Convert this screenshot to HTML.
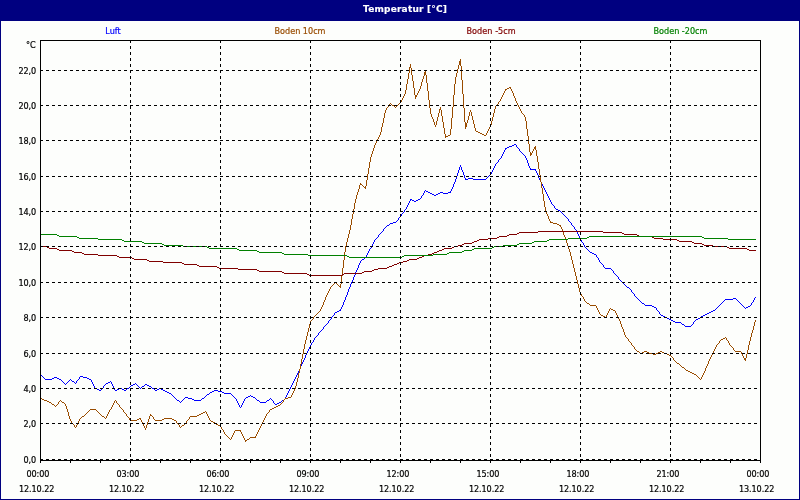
<!DOCTYPE html>
<html lang="de">
<head>
<meta charset="utf-8">
<title>Temperatur [°C]</title>
<style>
html,body{margin:0;padding:0;background:#fdfefc;}
body{width:800px;height:500px;overflow:hidden;}
svg{display:block;}
text{white-space:pre;}
.lbl text{font-family:"DejaVu Sans Condensed","DejaVu Sans","Liberation Sans",sans-serif;font-stretch:condensed;font-size:9px;stroke-width:0.2px;}
.lbl text.ttl{font-family:"DejaVu Sans","Liberation Sans",sans-serif;font-stretch:normal;font-weight:bold;font-size:9px;stroke-width:0.15px;}
</style>
</head>
<body>
<svg width="800" height="500" viewBox="0 0 800 500">
<rect x="0" y="0" width="800" height="500" fill="#fdfefc"/>
<g shape-rendering="crispEdges">
<path fill="#0000ff" d="M514 144h2v1h-2zM512 145h2v1h-2zM509 146h3v1h-3zM507 147h2v1h-2zM505 148h2v1h-2zM530 169h6v1h-6zM468 178h5v1h-5zM465 179h3v1h-3zM473 179h13v1h-13zM426 191h2v1h-2zM428 192h2v1h-2zM440 192h3v1h-3zM448 192h3v1h-3zM430 193h2v1h-2zM438 193h2v1h-2zM443 193h5v1h-5zM432 194h2v1h-2zM436 194h2v1h-2zM434 195h2v1h-2zM410 199h2v1h-2zM418 199h2v1h-2zM412 200h2v1h-2zM416 200h2v1h-2zM414 201h2v1h-2zM556 209h2v1h-2zM558 210h2v1h-2zM393 222h3v1h-3zM390 223h3v1h-3zM387 225h2v1h-2zM590 252h2v1h-2zM592 253h2v1h-2zM594 254h2v1h-2zM362 259h2v1h-2zM605 268h6v1h-6zM627 287h2v1h-2zM733 298h3v1h-3zM725 299h8v1h-8zM642 303h2v1h-2zM645 305h7v1h-7zM652 306h2v1h-2zM748 306h2v1h-2zM654 307h2v1h-2zM746 307h2v1h-2zM339 310h2v1h-2zM713 310h2v1h-2zM337 311h2v1h-2zM711 311h2v1h-2zM335 312h2v1h-2zM709 312h2v1h-2zM707 313h2v1h-2zM705 314h2v1h-2zM661 315h2v1h-2zM703 315h2v1h-2zM663 316h2v1h-2zM701 316h2v1h-2zM665 317h2v1h-2zM667 318h2v1h-2zM698 318h2v1h-2zM669 319h2v1h-2zM696 319h2v1h-2zM671 320h2v1h-2zM673 321h2v1h-2zM675 322h6v1h-6zM682 324h2v1h-2zM685 326h6v1h-6zM80 376h3v1h-3zM54 377h3v1h-3zM83 377h4v1h-4zM52 378h2v1h-2zM57 378h2v1h-2zM87 378h2v1h-2zM45 379h7v1h-7zM59 379h2v1h-2zM89 379h2v1h-2zM72 381h2v1h-2zM108 382h2v1h-2zM106 383h2v1h-2zM133 384h2v1h-2zM145 384h2v1h-2zM131 385h2v1h-2zM147 385h2v1h-2zM142 386h2v1h-2zM149 386h2v1h-2zM95 388h2v1h-2zM119 388h3v1h-3zM127 388h2v1h-2zM152 388h2v1h-2zM159 388h2v1h-2zM97 389h2v1h-2zM117 389h2v1h-2zM122 389h2v1h-2zM157 389h2v1h-2zM161 389h2v1h-2zM99 390h2v1h-2zM115 390h2v1h-2zM124 390h2v1h-2zM155 390h2v1h-2zM163 390h2v1h-2zM214 390h4v1h-4zM165 391h2v1h-2zM212 391h2v1h-2zM218 391h4v1h-4zM167 392h2v1h-2zM210 392h2v1h-2zM222 392h2v1h-2zM169 393h2v1h-2zM224 393h7v1h-7zM207 394h2v1h-2zM248 396h2v1h-2zM251 396h2v1h-2zM185 397h3v1h-3zM246 397h2v1h-2zM253 397h2v1h-2zM188 398h4v1h-4zM202 398h2v1h-2zM192 399h2v1h-2zM177 400h2v1h-2zM194 400h7v1h-7zM257 400h2v1h-2zM267 400h2v1h-2zM282 400h2v1h-2zM260 402h6v1h-6zM279 402h2v1h-2zM277 403h2v1h-2zM275 404h2v1h-2zM40 374h1v1h-1zM41 375h1v1h-1zM42 376h1v1h-1zM43 377h1v1h-1zM44 378h1v1h-1zM61 380h1v1h-1zM62 381h1v1h-1zM63 382h1v1h-1zM64 383h1v1h-1zM65 384h1v1h-1zM66 383h1v1h-1zM67 382h1v1h-1zM68 381h1v1h-1zM69 380h1v1h-1zM70 379h1v1h-1zM71 380h1v1h-1zM74 382h1v1h-1zM75 383h1v1h-1zM76 381h1v2h-1zM77 380h1v1h-1zM78 379h1v1h-1zM79 377h1v2h-1zM91 380h1v2h-1zM92 382h1v2h-1zM93 384h1v2h-1zM94 386h1v2h-1zM101 389h1v1h-1zM102 388h1v1h-1zM103 386h1v2h-1zM104 385h1v1h-1zM105 384h1v1h-1zM110 381h1v1h-1zM111 382h1v2h-1zM112 384h1v2h-1zM113 386h1v2h-1zM114 388h1v2h-1zM126 389h1v1h-1zM129 387h1v1h-1zM130 386h1v1h-1zM135 383h1v1h-1zM136 384h1v1h-1zM137 385h1v1h-1zM138 386h1v1h-1zM139 387h1v1h-1zM140 388h1v1h-1zM141 387h1v1h-1zM144 385h1v1h-1zM151 387h1v1h-1zM154 389h1v1h-1zM171 394h1v1h-1zM172 395h1v1h-1zM173 396h1v1h-1zM174 397h1v1h-1zM175 398h1v1h-1zM176 399h1v1h-1zM179 401h1v1h-1zM180 402h1v1h-1zM181 401h1v1h-1zM182 400h1v1h-1zM183 399h1v1h-1zM184 398h1v1h-1zM201 399h1v1h-1zM204 397h1v1h-1zM205 396h1v1h-1zM206 395h1v1h-1zM209 393h1v1h-1zM231 394h1v1h-1zM232 395h1v1h-1zM233 396h1v1h-1zM234 397h1v1h-1zM235 398h1v1h-1zM236 399h1v2h-1zM237 401h1v2h-1zM238 403h1v2h-1zM239 405h1v2h-1zM240 407h1v1h-1zM241 405h1v2h-1zM242 403h1v2h-1zM243 401h1v2h-1zM244 399h1v2h-1zM245 398h1v1h-1zM250 395h1v1h-1zM255 398h1v1h-1zM256 399h1v1h-1zM259 401h1v1h-1zM266 401h1v1h-1zM269 399h1v1h-1zM270 398h1v1h-1zM271 399h1v1h-1zM272 400h1v1h-1zM273 401h1v2h-1zM274 403h1v1h-1zM281 401h1v1h-1zM284 399h1v1h-1zM285 397h1v2h-1zM286 395h1v2h-1zM287 393h1v2h-1zM288 391h1v2h-1zM289 389h1v2h-1zM290 387h1v2h-1zM291 385h1v2h-1zM292 383h1v2h-1zM293 381h1v2h-1zM294 379h1v2h-1zM295 377h1v2h-1zM296 375h1v2h-1zM297 373h1v2h-1zM298 371h1v2h-1zM299 369h1v2h-1zM300 366h1v3h-1zM301 364h1v2h-1zM302 362h1v2h-1zM303 360h1v2h-1zM304 358h1v2h-1zM305 355h1v3h-1zM306 353h1v2h-1zM307 351h1v2h-1zM308 349h1v2h-1zM309 347h1v2h-1zM310 345h1v2h-1zM311 343h1v2h-1zM312 342h1v1h-1zM313 340h1v2h-1zM314 338h1v2h-1zM315 337h1v1h-1zM316 336h1v1h-1zM317 335h1v1h-1zM318 333h1v2h-1zM319 332h1v1h-1zM320 331h1v1h-1zM321 330h1v1h-1zM322 329h1v1h-1zM323 327h1v2h-1zM324 326h1v1h-1zM325 325h1v1h-1zM326 324h1v1h-1zM327 323h1v1h-1zM328 321h1v2h-1zM329 320h1v1h-1zM330 319h1v1h-1zM331 317h1v2h-1zM332 316h1v1h-1zM333 315h1v1h-1zM334 313h1v2h-1zM340 309h1v1h-1zM341 307h1v2h-1zM342 305h1v2h-1zM343 302h1v3h-1zM344 300h1v2h-1zM345 297h1v3h-1zM346 295h1v2h-1zM347 292h1v3h-1zM348 289h1v3h-1zM349 287h1v2h-1zM350 284h1v3h-1zM351 282h1v2h-1zM352 280h1v2h-1zM353 277h1v3h-1zM354 275h1v2h-1zM355 272h1v3h-1zM356 270h1v2h-1zM357 268h1v2h-1zM358 265h1v3h-1zM359 263h1v2h-1zM360 261h1v2h-1zM361 260h1v1h-1zM364 258h1v1h-1zM365 257h1v1h-1zM366 255h1v2h-1zM367 253h1v2h-1zM368 251h1v2h-1zM369 249h1v2h-1zM370 248h1v1h-1zM371 246h1v2h-1zM372 244h1v2h-1zM373 242h1v2h-1zM374 240h1v2h-1zM375 239h1v1h-1zM376 238h1v1h-1zM377 237h1v1h-1zM378 235h1v2h-1zM379 234h1v1h-1zM380 233h1v1h-1zM381 232h1v1h-1zM382 231h1v1h-1zM383 229h1v2h-1zM384 228h1v1h-1zM385 227h1v1h-1zM386 226h1v1h-1zM389 224h1v1h-1zM396 221h1v1h-1zM397 220h1v1h-1zM398 218h1v2h-1zM399 217h1v1h-1zM400 216h1v1h-1zM401 214h1v2h-1zM402 213h1v1h-1zM403 212h1v1h-1zM404 210h1v2h-1zM405 209h1v1h-1zM406 207h1v2h-1zM407 205h1v2h-1zM408 203h1v2h-1zM409 201h1v2h-1zM410 200h1v1h-1zM420 198h1v1h-1zM421 196h1v2h-1zM422 195h1v1h-1zM423 193h1v2h-1zM424 191h1v2h-1zM425 190h1v1h-1zM450 191h1v1h-1zM451 189h1v2h-1zM452 187h1v2h-1zM453 184h1v3h-1zM454 182h1v2h-1zM455 179h1v3h-1zM456 176h1v3h-1zM457 173h1v3h-1zM458 170h1v3h-1zM459 167h1v3h-1zM460 165h1v2h-1zM461 167h1v3h-1zM462 170h1v2h-1zM463 172h1v3h-1zM464 175h1v3h-1zM465 178h1v1h-1zM486 178h1v1h-1zM487 177h1v1h-1zM488 176h1v1h-1zM489 175h1v1h-1zM490 174h1v1h-1zM491 172h1v2h-1zM492 170h1v2h-1zM493 168h1v2h-1zM494 166h1v2h-1zM495 164h1v2h-1zM496 163h1v1h-1zM497 162h1v1h-1zM498 160h1v2h-1zM499 159h1v1h-1zM500 158h1v1h-1zM501 156h1v2h-1zM502 154h1v2h-1zM503 152h1v2h-1zM504 150h1v2h-1zM505 149h1v1h-1zM516 145h1v2h-1zM517 147h1v1h-1zM518 148h1v1h-1zM519 149h1v2h-1zM520 151h1v1h-1zM521 152h1v1h-1zM522 153h1v1h-1zM523 154h1v1h-1zM524 155h1v1h-1zM525 156h1v2h-1zM526 158h1v2h-1zM527 160h1v3h-1zM528 163h1v3h-1zM529 166h1v2h-1zM530 168h1v1h-1zM535 170h1v1h-1zM536 171h1v2h-1zM537 173h1v2h-1zM538 175h1v3h-1zM539 178h1v2h-1zM540 180h1v2h-1zM541 182h1v2h-1zM542 184h1v2h-1zM543 186h1v2h-1zM544 188h1v2h-1zM545 190h1v2h-1zM546 192h1v2h-1zM547 194h1v2h-1zM548 196h1v2h-1zM549 198h1v2h-1zM550 200h1v2h-1zM551 202h1v2h-1zM552 204h1v1h-1zM553 205h1v1h-1zM554 206h1v2h-1zM555 208h1v1h-1zM560 211h1v1h-1zM561 212h1v1h-1zM562 213h1v1h-1zM563 214h1v1h-1zM564 215h1v1h-1zM565 216h1v1h-1zM566 217h1v1h-1zM567 218h1v1h-1zM568 219h1v2h-1zM569 221h1v1h-1zM570 222h1v1h-1zM571 223h1v2h-1zM572 225h1v1h-1zM573 226h1v1h-1zM574 227h1v2h-1zM575 229h1v1h-1zM576 230h1v2h-1zM577 232h1v2h-1zM578 234h1v2h-1zM579 236h1v2h-1zM580 238h1v2h-1zM581 240h1v2h-1zM582 242h1v1h-1zM583 243h1v2h-1zM584 245h1v2h-1zM585 247h1v1h-1zM586 248h1v1h-1zM587 249h1v1h-1zM588 250h1v1h-1zM589 251h1v1h-1zM596 255h1v2h-1zM597 257h1v1h-1zM598 258h1v2h-1zM599 260h1v2h-1zM600 262h1v1h-1zM601 263h1v1h-1zM602 264h1v1h-1zM603 265h1v2h-1zM604 267h1v1h-1zM611 269h1v1h-1zM612 270h1v1h-1zM613 271h1v2h-1zM614 273h1v1h-1zM615 274h1v1h-1zM616 275h1v1h-1zM617 276h1v1h-1zM618 277h1v2h-1zM619 279h1v1h-1zM620 280h1v1h-1zM621 281h1v1h-1zM622 282h1v1h-1zM623 283h1v1h-1zM624 284h1v1h-1zM625 285h1v1h-1zM626 286h1v1h-1zM629 288h1v1h-1zM630 289h1v1h-1zM631 290h1v2h-1zM632 292h1v1h-1zM633 293h1v1h-1zM634 294h1v2h-1zM635 296h1v1h-1zM636 297h1v1h-1zM637 298h1v1h-1zM638 299h1v1h-1zM639 300h1v1h-1zM640 301h1v1h-1zM641 302h1v1h-1zM644 304h1v1h-1zM656 308h1v2h-1zM657 310h1v1h-1zM658 311h1v1h-1zM659 312h1v2h-1zM660 314h1v1h-1zM681 323h1v1h-1zM684 325h1v1h-1zM691 325h1v1h-1zM692 324h1v1h-1zM693 322h1v2h-1zM694 321h1v1h-1zM695 320h1v1h-1zM700 317h1v1h-1zM715 309h1v1h-1zM716 308h1v1h-1zM717 307h1v1h-1zM718 306h1v1h-1zM719 305h1v1h-1zM720 304h1v1h-1zM721 303h1v1h-1zM722 302h1v1h-1zM723 301h1v1h-1zM724 300h1v1h-1zM736 299h1v1h-1zM737 300h1v1h-1zM738 301h1v1h-1zM739 302h1v1h-1zM740 303h1v1h-1zM741 304h1v1h-1zM742 305h1v1h-1zM743 306h1v1h-1zM744 307h1v1h-1zM745 308h1v1h-1zM750 305h1v1h-1zM751 303h1v2h-1zM752 302h1v1h-1zM753 300h1v2h-1zM754 298h1v2h-1zM755 297h1v1h-1z"/>
<path fill="#994c00" d="M459 61h2v1h-2zM459 62h2v1h-2zM459 63h2v1h-2zM459 64h2v1h-2zM409 67h2v1h-2zM424 72h2v1h-2zM424 73h2v1h-2zM424 74h2v1h-2zM509 87h2v1h-2zM507 88h2v1h-2zM505 89h2v1h-2zM415 95h2v1h-2zM415 96h2v1h-2zM392 105h2v1h-2zM439 109h2v1h-2zM465 123h2v1h-2zM465 124h2v1h-2zM465 125h2v1h-2zM465 126h2v1h-2zM476 131h2v1h-2zM478 132h2v1h-2zM480 133h2v1h-2zM482 134h2v1h-2zM448 135h2v1h-2zM484 135h2v1h-2zM445 136h3v1h-3zM534 147h2v1h-2zM534 148h2v1h-2zM530 153h2v1h-2zM530 154h2v1h-2zM360 184h2v1h-2zM364 187h2v1h-2zM550 222h3v1h-3zM553 223h4v1h-4zM557 224h2v1h-2zM559 225h2v1h-2zM339 286h2v1h-2zM587 303h2v1h-2zM590 305h6v1h-6zM611 309h2v1h-2zM613 310h2v1h-2zM601 315h2v1h-2zM603 316h2v1h-2zM723 338h2v1h-2zM721 339h2v1h-2zM637 351h2v1h-2zM644 351h3v1h-3zM660 351h2v1h-2zM735 351h6v1h-6zM642 352h2v1h-2zM647 352h2v1h-2zM658 352h2v1h-2zM662 352h2v1h-2zM640 353h2v1h-2zM649 353h4v1h-4zM656 353h2v1h-2zM664 353h3v1h-3zM653 354h3v1h-3zM667 354h2v1h-2zM669 355h2v1h-2zM744 358h2v1h-2zM744 359h2v1h-2zM677 363h2v1h-2zM682 367h2v1h-2zM686 370h2v1h-2zM688 371h2v1h-2zM690 372h2v1h-2zM692 373h2v1h-2zM694 374h2v1h-2zM288 397h3v1h-3zM40 398h2v1h-2zM285 398h3v1h-3zM42 399h2v1h-2zM44 400h3v1h-3zM47 401h2v1h-2zM49 402h2v1h-2zM62 402h2v1h-2zM52 404h2v1h-2zM278 405h2v1h-2zM276 406h2v1h-2zM274 407h2v1h-2zM272 408h2v1h-2zM90 409h6v1h-6zM270 409h2v1h-2zM203 412h2v1h-2zM201 413h2v1h-2zM199 414h2v1h-2zM150 415h2v1h-2zM197 415h2v1h-2zM82 416h2v1h-2zM102 416h2v1h-2zM190 416h7v1h-7zM139 418h2v1h-2zM164 418h8v1h-8zM137 419h2v1h-2zM162 419h2v1h-2zM172 419h2v1h-2zM130 420h7v1h-7zM155 420h7v1h-7zM174 420h2v1h-2zM211 421h2v1h-2zM213 422h2v1h-2zM216 424h2v1h-2zM182 425h2v1h-2zM218 425h2v1h-2zM235 430h6v1h-6zM250 437h6v1h-6zM247 439h2v1h-2zM245 440h2v1h-2zM51 403h1v1h-1zM54 405h1v1h-1zM55 406h1v1h-1zM56 405h1v1h-1zM57 404h1v1h-1zM58 402h1v2h-1zM59 401h1v1h-1zM60 400h1v1h-1zM61 401h1v1h-1zM64 403h1v1h-1zM65 404h1v2h-1zM66 406h1v3h-1zM67 409h1v3h-1zM68 412h1v4h-1zM69 416h1v3h-1zM70 419h1v2h-1zM71 421h1v2h-1zM72 423h1v1h-1zM73 424h1v1h-1zM74 425h1v2h-1zM75 427h1v1h-1zM76 425h1v2h-1zM77 423h1v2h-1zM78 421h1v2h-1zM79 419h1v2h-1zM80 418h1v1h-1zM81 417h1v1h-1zM84 415h1v1h-1zM85 414h1v1h-1zM86 413h1v1h-1zM87 412h1v1h-1zM88 411h1v1h-1zM89 410h1v1h-1zM96 410h1v1h-1zM97 411h1v1h-1zM98 412h1v1h-1zM99 413h1v1h-1zM100 414h1v1h-1zM101 415h1v1h-1zM104 417h1v1h-1zM105 418h1v1h-1zM106 416h1v2h-1zM107 414h1v2h-1zM108 412h1v2h-1zM109 410h1v2h-1zM110 409h1v1h-1zM111 407h1v2h-1zM112 405h1v2h-1zM113 403h1v2h-1zM114 401h1v2h-1zM115 400h1v1h-1zM116 401h1v2h-1zM117 403h1v1h-1zM118 404h1v1h-1zM119 405h1v2h-1zM120 407h1v1h-1zM121 408h1v1h-1zM122 409h1v1h-1zM123 410h1v2h-1zM124 412h1v1h-1zM125 413h1v1h-1zM126 414h1v2h-1zM127 416h1v1h-1zM128 417h1v1h-1zM129 418h1v2h-1zM140 419h1v1h-1zM141 420h1v2h-1zM142 422h1v2h-1zM143 424h1v2h-1zM144 426h1v2h-1zM145 428h1v2h-1zM146 425h1v3h-1zM147 422h1v3h-1zM148 419h1v3h-1zM149 416h1v3h-1zM150 414h1v1h-1zM152 416h1v1h-1zM153 417h1v2h-1zM154 419h1v1h-1zM176 421h1v2h-1zM177 423h1v1h-1zM178 424h1v1h-1zM179 425h1v2h-1zM180 427h1v1h-1zM181 426h1v1h-1zM184 424h1v1h-1zM185 423h1v1h-1zM186 421h1v2h-1zM187 420h1v1h-1zM188 419h1v1h-1zM189 417h1v2h-1zM205 411h1v1h-1zM206 412h1v2h-1zM207 414h1v2h-1zM208 416h1v2h-1zM209 418h1v2h-1zM210 420h1v1h-1zM215 423h1v1h-1zM220 426h1v1h-1zM221 427h1v2h-1zM222 429h1v1h-1zM223 430h1v2h-1zM224 432h1v2h-1zM225 434h1v1h-1zM226 435h1v1h-1zM227 436h1v1h-1zM228 437h1v1h-1zM229 438h1v1h-1zM230 439h1v1h-1zM231 437h1v2h-1zM232 435h1v2h-1zM233 433h1v2h-1zM234 431h1v2h-1zM240 431h1v1h-1zM241 432h1v2h-1zM242 434h1v2h-1zM243 436h1v2h-1zM244 438h1v2h-1zM245 441h1v1h-1zM249 438h1v1h-1zM255 436h1v1h-1zM256 434h1v2h-1zM257 432h1v2h-1zM258 430h1v2h-1zM259 428h1v2h-1zM260 426h1v2h-1zM261 424h1v2h-1zM262 422h1v2h-1zM263 420h1v2h-1zM264 418h1v2h-1zM265 416h1v2h-1zM266 414h1v2h-1zM267 413h1v1h-1zM268 412h1v1h-1zM269 410h1v2h-1zM280 404h1v1h-1zM281 403h1v1h-1zM282 402h1v1h-1zM283 400h1v2h-1zM284 399h1v1h-1zM291 395h1v2h-1zM292 393h1v2h-1zM293 391h1v2h-1zM294 389h1v2h-1zM295 386h1v3h-1zM296 382h1v4h-1zM297 378h1v4h-1zM298 373h1v5h-1zM299 369h1v4h-1zM300 364h1v5h-1zM301 359h1v5h-1zM302 354h1v5h-1zM303 349h1v5h-1zM304 344h1v5h-1zM305 340h1v4h-1zM306 336h1v4h-1zM307 332h1v4h-1zM308 328h1v4h-1zM309 324h1v4h-1zM310 321h1v3h-1zM311 320h1v1h-1zM312 319h1v1h-1zM313 317h1v2h-1zM314 316h1v1h-1zM315 315h1v1h-1zM316 314h1v1h-1zM317 313h1v1h-1zM318 312h1v1h-1zM319 311h1v1h-1zM320 309h1v2h-1zM321 307h1v2h-1zM322 305h1v2h-1zM323 302h1v3h-1zM324 300h1v2h-1zM325 297h1v3h-1zM326 295h1v2h-1zM327 293h1v2h-1zM328 291h1v2h-1zM329 289h1v2h-1zM330 287h1v2h-1zM331 286h1v1h-1zM332 285h1v1h-1zM333 284h1v1h-1zM334 283h1v1h-1zM335 282h1v1h-1zM336 283h1v1h-1zM337 284h1v1h-1zM338 285h1v1h-1zM340 284h1v2h-1zM340 287h1v1h-1zM341 276h1v8h-1zM342 268h1v8h-1zM343 260h1v8h-1zM344 252h1v8h-1zM345 246h1v6h-1zM346 242h1v4h-1zM347 238h1v4h-1zM348 234h1v4h-1zM349 230h1v4h-1zM350 225h1v5h-1zM351 219h1v6h-1zM352 214h1v5h-1zM353 209h1v5h-1zM354 203h1v6h-1zM355 199h1v4h-1zM356 195h1v4h-1zM357 192h1v3h-1zM358 189h1v3h-1zM359 185h1v4h-1zM360 183h1v1h-1zM362 185h1v1h-1zM363 186h1v1h-1zM365 186h1v1h-1zM365 188h1v1h-1zM366 180h1v6h-1zM367 174h1v6h-1zM368 168h1v6h-1zM369 162h1v6h-1zM370 157h1v5h-1zM371 154h1v3h-1zM372 151h1v3h-1zM373 148h1v3h-1zM374 145h1v3h-1zM375 143h1v2h-1zM376 141h1v2h-1zM377 139h1v2h-1zM378 137h1v2h-1zM379 135h1v2h-1zM380 132h1v3h-1zM381 127h1v5h-1zM382 123h1v4h-1zM383 118h1v5h-1zM384 113h1v5h-1zM385 110h1v3h-1zM386 108h1v2h-1zM387 107h1v1h-1zM388 106h1v1h-1zM389 104h1v2h-1zM390 103h1v1h-1zM391 104h1v1h-1zM394 106h1v1h-1zM395 107h1v1h-1zM396 106h1v1h-1zM397 105h1v1h-1zM398 104h1v1h-1zM399 103h1v1h-1zM400 102h1v1h-1zM401 100h1v2h-1zM402 98h1v2h-1zM403 96h1v2h-1zM404 94h1v2h-1zM405 90h1v4h-1zM406 84h1v6h-1zM407 79h1v5h-1zM408 73h1v6h-1zM409 68h1v5h-1zM410 64h1v3h-1zM411 68h1v7h-1zM412 75h1v6h-1zM413 81h1v7h-1zM414 88h1v7h-1zM415 97h1v2h-1zM417 93h1v2h-1zM418 91h1v2h-1zM419 89h1v2h-1zM420 86h1v3h-1zM421 82h1v4h-1zM422 79h1v3h-1zM423 76h1v3h-1zM424 75h1v1h-1zM425 70h1v2h-1zM426 75h1v8h-1zM427 83h1v8h-1zM428 91h1v9h-1zM429 100h1v8h-1zM430 108h1v6h-1zM431 114h1v3h-1zM432 117h1v2h-1zM433 119h1v3h-1zM434 122h1v3h-1zM435 125h1v2h-1zM436 121h1v4h-1zM437 117h1v4h-1zM438 113h1v4h-1zM439 110h1v3h-1zM440 107h1v2h-1zM441 110h1v6h-1zM442 116h1v6h-1zM443 122h1v6h-1zM444 128h1v6h-1zM445 134h1v2h-1zM445 137h1v1h-1zM450 129h1v6h-1zM451 118h1v11h-1zM452 107h1v11h-1zM453 95h1v12h-1zM454 84h1v11h-1zM455 77h1v7h-1zM456 73h1v4h-1zM457 69h1v4h-1zM458 65h1v4h-1zM460 59h1v2h-1zM460 65h1v1h-1zM461 66h1v14h-1zM462 80h1v14h-1zM463 94h1v14h-1zM464 108h1v14h-1zM465 122h1v1h-1zM465 127h1v2h-1zM467 120h1v3h-1zM468 116h1v4h-1zM469 112h1v4h-1zM470 110h1v2h-1zM471 112h1v4h-1zM472 116h1v4h-1zM473 120h1v4h-1zM474 124h1v4h-1zM475 128h1v3h-1zM486 133h1v2h-1zM487 131h1v2h-1zM488 129h1v2h-1zM489 127h1v2h-1zM490 125h1v2h-1zM491 121h1v4h-1zM492 117h1v4h-1zM493 113h1v4h-1zM494 109h1v4h-1zM495 106h1v3h-1zM496 105h1v1h-1zM497 104h1v1h-1zM498 102h1v2h-1zM499 101h1v1h-1zM500 99h1v2h-1zM501 97h1v2h-1zM502 95h1v2h-1zM503 93h1v2h-1zM504 91h1v2h-1zM505 90h1v1h-1zM510 88h1v1h-1zM511 89h1v2h-1zM512 91h1v2h-1zM513 93h1v3h-1zM514 96h1v2h-1zM515 98h1v3h-1zM516 101h1v2h-1zM517 103h1v2h-1zM518 105h1v2h-1zM519 107h1v2h-1zM520 109h1v2h-1zM521 111h1v2h-1zM522 113h1v1h-1zM523 114h1v1h-1zM524 115h1v2h-1zM525 117h1v4h-1zM526 121h1v8h-1zM527 129h1v7h-1zM528 136h1v8h-1zM529 144h1v8h-1zM530 152h1v1h-1zM530 155h1v1h-1zM532 151h1v2h-1zM533 149h1v2h-1zM535 146h1v1h-1zM535 149h1v1h-1zM536 150h1v6h-1zM537 156h1v6h-1zM538 162h1v7h-1zM539 169h1v6h-1zM540 175h1v7h-1zM541 182h1v6h-1zM542 188h1v6h-1zM543 194h1v7h-1zM544 201h1v6h-1zM545 207h1v5h-1zM546 212h1v2h-1zM547 214h1v2h-1zM548 216h1v3h-1zM549 219h1v2h-1zM550 221h1v1h-1zM560 226h1v1h-1zM561 227h1v2h-1zM562 229h1v3h-1zM563 232h1v3h-1zM564 235h1v2h-1zM565 237h1v3h-1zM566 240h1v3h-1zM567 243h1v3h-1zM568 246h1v3h-1zM569 249h1v3h-1zM570 252h1v4h-1zM571 256h1v4h-1zM572 260h1v4h-1zM573 264h1v4h-1zM574 268h1v4h-1zM575 272h1v4h-1zM576 276h1v4h-1zM577 280h1v4h-1zM578 284h1v4h-1zM579 288h1v4h-1zM580 292h1v2h-1zM581 294h1v2h-1zM582 296h1v1h-1zM583 297h1v2h-1zM584 299h1v2h-1zM585 301h1v1h-1zM586 302h1v1h-1zM589 304h1v1h-1zM596 306h1v2h-1zM597 308h1v2h-1zM598 310h1v2h-1zM599 312h1v2h-1zM600 314h1v1h-1zM605 317h1v1h-1zM606 315h1v2h-1zM607 313h1v2h-1zM608 311h1v2h-1zM609 309h1v2h-1zM610 308h1v1h-1zM615 311h1v2h-1zM616 313h1v2h-1zM617 315h1v2h-1zM618 317h1v2h-1zM619 319h1v2h-1zM620 321h1v3h-1zM621 324h1v3h-1zM622 327h1v2h-1zM623 329h1v3h-1zM624 332h1v3h-1zM625 335h1v2h-1zM626 337h1v1h-1zM627 338h1v1h-1zM628 339h1v2h-1zM629 341h1v1h-1zM630 342h1v1h-1zM631 343h1v2h-1zM632 345h1v1h-1zM633 346h1v1h-1zM634 347h1v2h-1zM635 349h1v1h-1zM636 350h1v1h-1zM639 352h1v1h-1zM671 356h1v1h-1zM672 357h1v1h-1zM673 358h1v2h-1zM674 360h1v1h-1zM675 361h1v1h-1zM676 362h1v1h-1zM679 364h1v1h-1zM680 365h1v1h-1zM681 366h1v1h-1zM684 368h1v1h-1zM685 369h1v1h-1zM696 375h1v1h-1zM697 376h1v1h-1zM698 377h1v1h-1zM699 378h1v1h-1zM700 379h1v1h-1zM701 377h1v2h-1zM702 375h1v2h-1zM703 373h1v2h-1zM704 371h1v2h-1zM705 368h1v3h-1zM706 366h1v2h-1zM707 364h1v2h-1zM708 361h1v3h-1zM709 359h1v2h-1zM710 357h1v2h-1zM711 355h1v2h-1zM712 353h1v2h-1zM713 351h1v2h-1zM714 349h1v2h-1zM715 347h1v2h-1zM716 345h1v2h-1zM717 344h1v1h-1zM718 343h1v1h-1zM719 341h1v2h-1zM720 340h1v1h-1zM725 337h1v1h-1zM726 338h1v2h-1zM727 340h1v1h-1zM728 341h1v2h-1zM729 343h1v2h-1zM730 345h1v1h-1zM731 346h1v1h-1zM732 347h1v1h-1zM733 348h1v2h-1zM734 350h1v1h-1zM741 352h1v2h-1zM742 354h1v2h-1zM743 356h1v2h-1zM745 360h1v1h-1zM746 354h1v4h-1zM747 350h1v4h-1zM748 345h1v5h-1zM749 341h1v4h-1zM750 337h1v4h-1zM751 333h1v4h-1zM752 330h1v3h-1zM753 326h1v4h-1zM754 322h1v4h-1zM755 320h1v2h-1z"/>
<path fill="#800000" d="M538 231h65v1h-65zM519 232h19v1h-19zM603 232h19v1h-19zM517 233h2v1h-2zM622 233h2v1h-2zM509 234h8v1h-8zM624 234h13v1h-13zM507 235h2v1h-2zM637 235h2v1h-2zM499 236h8v1h-8zM639 236h13v1h-13zM497 237h2v1h-2zM652 237h2v1h-2zM488 238h9v1h-9zM654 238h9v1h-9zM479 239h9v1h-9zM663 239h14v1h-14zM477 240h2v1h-2zM677 240h2v1h-2zM474 241h3v1h-3zM679 241h13v1h-13zM472 242h2v1h-2zM692 242h2v1h-2zM464 243h8v1h-8zM694 243h8v1h-8zM462 244h2v1h-2zM702 244h2v1h-2zM458 245h4v1h-4zM704 245h9v1h-9zM40 246h7v1h-7zM454 246h4v1h-4zM713 246h14v1h-14zM47 247h2v1h-2zM452 247h2v1h-2zM727 247h2v1h-2zM49 248h8v1h-8zM444 248h8v1h-8zM729 248h18v1h-18zM57 249h2v1h-2zM442 249h2v1h-2zM747 249h2v1h-2zM59 250h13v1h-13zM439 250h3v1h-3zM749 250h7v1h-7zM72 251h2v1h-2zM437 251h2v1h-2zM74 252h8v1h-8zM434 252h3v1h-3zM82 253h2v1h-2zM432 253h2v1h-2zM84 254h14v1h-14zM428 254h4v1h-4zM98 255h19v1h-19zM424 255h4v1h-4zM117 256h2v1h-2zM422 256h2v1h-2zM119 257h13v1h-13zM419 257h3v1h-3zM132 258h2v1h-2zM417 258h2v1h-2zM134 259h13v1h-13zM409 259h8v1h-8zM147 260h2v1h-2zM407 260h2v1h-2zM149 261h14v1h-14zM403 261h4v1h-4zM163 262h19v1h-19zM399 262h4v1h-4zM182 263h2v1h-2zM397 263h2v1h-2zM184 264h13v1h-13zM394 264h3v1h-3zM197 265h2v1h-2zM392 265h2v1h-2zM199 266h18v1h-18zM389 266h3v1h-3zM217 267h2v1h-2zM387 267h2v1h-2zM219 268h19v1h-19zM378 268h9v1h-9zM238 269h19v1h-19zM374 269h4v1h-4zM257 270h2v1h-2zM372 270h2v1h-2zM259 271h23v1h-23zM364 271h8v1h-8zM282 272h2v1h-2zM362 272h2v1h-2zM284 273h23v1h-23zM344 273h18v1h-18zM307 274h2v1h-2zM342 274h2v1h-2zM309 275h33v1h-33z"/>
<path fill="#008000" d="M40 234h17v1h-17zM57 235h2v1h-2zM59 236h18v1h-18zM589 236h113v1h-113zM77 237h2v1h-2zM587 237h2v1h-2zM702 237h2v1h-2zM79 238h19v1h-19zM568 238h19v1h-19zM704 238h24v1h-24zM98 239h24v1h-24zM549 239h19v1h-19zM728 239h28v1h-28zM122 240h2v1h-2zM547 240h2v1h-2zM124 241h18v1h-18zM534 241h13v1h-13zM142 242h2v1h-2zM532 242h2v1h-2zM144 243h18v1h-18zM519 243h13v1h-13zM162 244h2v1h-2zM517 244h2v1h-2zM164 245h19v1h-19zM503 245h14v1h-14zM183 246h24v1h-24zM494 246h9v1h-9zM207 247h2v1h-2zM492 247h2v1h-2zM209 248h28v1h-28zM474 248h18v1h-18zM237 249h2v1h-2zM472 249h2v1h-2zM239 250h18v1h-18zM464 250h8v1h-8zM257 251h2v1h-2zM462 251h2v1h-2zM259 252h23v1h-23zM449 252h13v1h-13zM282 253h2v1h-2zM447 253h2v1h-2zM284 254h24v1h-24zM433 254h14v1h-14zM308 255h39v1h-39zM404 255h29v1h-29zM347 256h2v1h-2zM402 256h2v1h-2zM349 257h53v1h-53z"/>
<g stroke="#000000" stroke-width="1" stroke-dasharray="3 3">
<line x1="40" y1="459.5" x2="760" y2="459.5"/>
<line x1="40" y1="423.5" x2="760" y2="423.5"/>
<line x1="40" y1="388.5" x2="760" y2="388.5"/>
<line x1="40" y1="353.5" x2="760" y2="353.5"/>
<line x1="40" y1="317.5" x2="760" y2="317.5"/>
<line x1="40" y1="282.5" x2="760" y2="282.5"/>
<line x1="40" y1="246.5" x2="760" y2="246.5"/>
<line x1="40" y1="211.5" x2="760" y2="211.5"/>
<line x1="40" y1="176.5" x2="760" y2="176.5"/>
<line x1="40" y1="140.5" x2="760" y2="140.5"/>
<line x1="40" y1="105.5" x2="760" y2="105.5"/>
<line x1="40" y1="70.5" x2="760" y2="70.5"/>
<line x1="130.5" y1="40" x2="130.5" y2="460"/>
<line x1="220.5" y1="40" x2="220.5" y2="460"/>
<line x1="310.5" y1="40" x2="310.5" y2="460"/>
<line x1="400.5" y1="40" x2="400.5" y2="460"/>
<line x1="490.5" y1="40" x2="490.5" y2="460"/>
<line x1="580.5" y1="40" x2="580.5" y2="460"/>
<line x1="670.5" y1="40" x2="670.5" y2="460"/>
</g>
<g fill="#000000">
<rect x="40" y="40" width="721" height="1"/>
<rect x="40" y="460" width="721" height="1"/>
<rect x="40" y="40" width="1" height="423"/>
<rect x="760" y="40" width="1" height="423"/>
<rect x="70" y="460" width="1" height="3"/>
<rect x="100" y="460" width="1" height="3"/>
<rect x="130" y="460" width="1" height="3"/>
<rect x="160" y="460" width="1" height="3"/>
<rect x="190" y="460" width="1" height="3"/>
<rect x="220" y="460" width="1" height="3"/>
<rect x="250" y="460" width="1" height="3"/>
<rect x="280" y="460" width="1" height="3"/>
<rect x="310" y="460" width="1" height="3"/>
<rect x="340" y="460" width="1" height="3"/>
<rect x="370" y="460" width="1" height="3"/>
<rect x="400" y="460" width="1" height="3"/>
<rect x="430" y="460" width="1" height="3"/>
<rect x="460" y="460" width="1" height="3"/>
<rect x="490" y="460" width="1" height="3"/>
<rect x="520" y="460" width="1" height="3"/>
<rect x="550" y="460" width="1" height="3"/>
<rect x="580" y="460" width="1" height="3"/>
<rect x="610" y="460" width="1" height="3"/>
<rect x="640" y="460" width="1" height="3"/>
<rect x="670" y="460" width="1" height="3"/>
<rect x="700" y="460" width="1" height="3"/>
<rect x="730" y="460" width="1" height="3"/>
</g>
<rect x="0" y="0" width="800" height="21" fill="#000080"/>
<rect x="0" y="0" width="1" height="500" fill="#000080"/>
<rect x="799" y="0" width="1" height="500" fill="#000080"/>
<rect x="0" y="499" width="800" height="1" fill="#000080"/>
</g>
<g class="lbl">
<text x="363" y="12" fill="#fff" stroke="#fff" class="ttl" letter-spacing="0.2">Temperatur [°C]</text>
<text x="105.3" y="34" fill="#0000ff" stroke="#0000ff">Luft</text>
<text x="274.5" y="34" fill="#994c00" stroke="#994c00">Boden 10cm</text>
<text x="466.5" y="34" fill="#800000" stroke="#800000" letter-spacing="0.05">Boden -5cm</text>
<text x="653.5" y="34" fill="#008000" stroke="#008000">Boden -20cm</text>
<text x="26" y="48" fill="#000" stroke="#000">°C</text>
<text x="23.4" y="463" fill="#000" stroke="#000" letter-spacing="-0.1">0,0</text>
<text x="23.4" y="427" fill="#000" stroke="#000" letter-spacing="-0.1">2,0</text>
<text x="23.4" y="392" fill="#000" stroke="#000" letter-spacing="-0.1">4,0</text>
<text x="23.4" y="357" fill="#000" stroke="#000" letter-spacing="-0.1">6,0</text>
<text x="23.4" y="321" fill="#000" stroke="#000" letter-spacing="-0.1">8,0</text>
<text x="18.4" y="286" fill="#000" stroke="#000" letter-spacing="-0.1">10,0</text>
<text x="18.4" y="250" fill="#000" stroke="#000" letter-spacing="-0.1">12,0</text>
<text x="18.4" y="215" fill="#000" stroke="#000" letter-spacing="-0.1">14,0</text>
<text x="18.4" y="180" fill="#000" stroke="#000" letter-spacing="-0.1">16,0</text>
<text x="18.4" y="144" fill="#000" stroke="#000" letter-spacing="-0.1">18,0</text>
<text x="18.4" y="109" fill="#000" stroke="#000" letter-spacing="-0.1">20,0</text>
<text x="18.4" y="74" fill="#000" stroke="#000" letter-spacing="-0.1">22,0</text>
<text x="26.5" y="477" fill="#000" stroke="#000" letter-spacing="-0.1">00:00</text>
<text x="19" y="492" fill="#000" stroke="#000" letter-spacing="-0.1">12.10.22</text>
<text x="116.5" y="477" fill="#000" stroke="#000" letter-spacing="-0.1">03:00</text>
<text x="109" y="492" fill="#000" stroke="#000" letter-spacing="-0.1">12.10.22</text>
<text x="206.5" y="477" fill="#000" stroke="#000" letter-spacing="-0.1">06:00</text>
<text x="199" y="492" fill="#000" stroke="#000" letter-spacing="-0.1">12.10.22</text>
<text x="296.5" y="477" fill="#000" stroke="#000" letter-spacing="-0.1">09:00</text>
<text x="289" y="492" fill="#000" stroke="#000" letter-spacing="-0.1">12.10.22</text>
<text x="386.5" y="477" fill="#000" stroke="#000" letter-spacing="-0.1">12:00</text>
<text x="379" y="492" fill="#000" stroke="#000" letter-spacing="-0.1">12.10.22</text>
<text x="476.5" y="477" fill="#000" stroke="#000" letter-spacing="-0.1">15:00</text>
<text x="469" y="492" fill="#000" stroke="#000" letter-spacing="-0.1">12.10.22</text>
<text x="566.5" y="477" fill="#000" stroke="#000" letter-spacing="-0.1">18:00</text>
<text x="559" y="492" fill="#000" stroke="#000" letter-spacing="-0.1">12.10.22</text>
<text x="656.5" y="477" fill="#000" stroke="#000" letter-spacing="-0.1">21:00</text>
<text x="649" y="492" fill="#000" stroke="#000" letter-spacing="-0.1">12.10.22</text>
<text x="746.5" y="477" fill="#000" stroke="#000" letter-spacing="-0.1">00:00</text>
<text x="739" y="492" fill="#000" stroke="#000" letter-spacing="-0.1">13.10.22</text>
</g>
</svg>
</body>
</html>
